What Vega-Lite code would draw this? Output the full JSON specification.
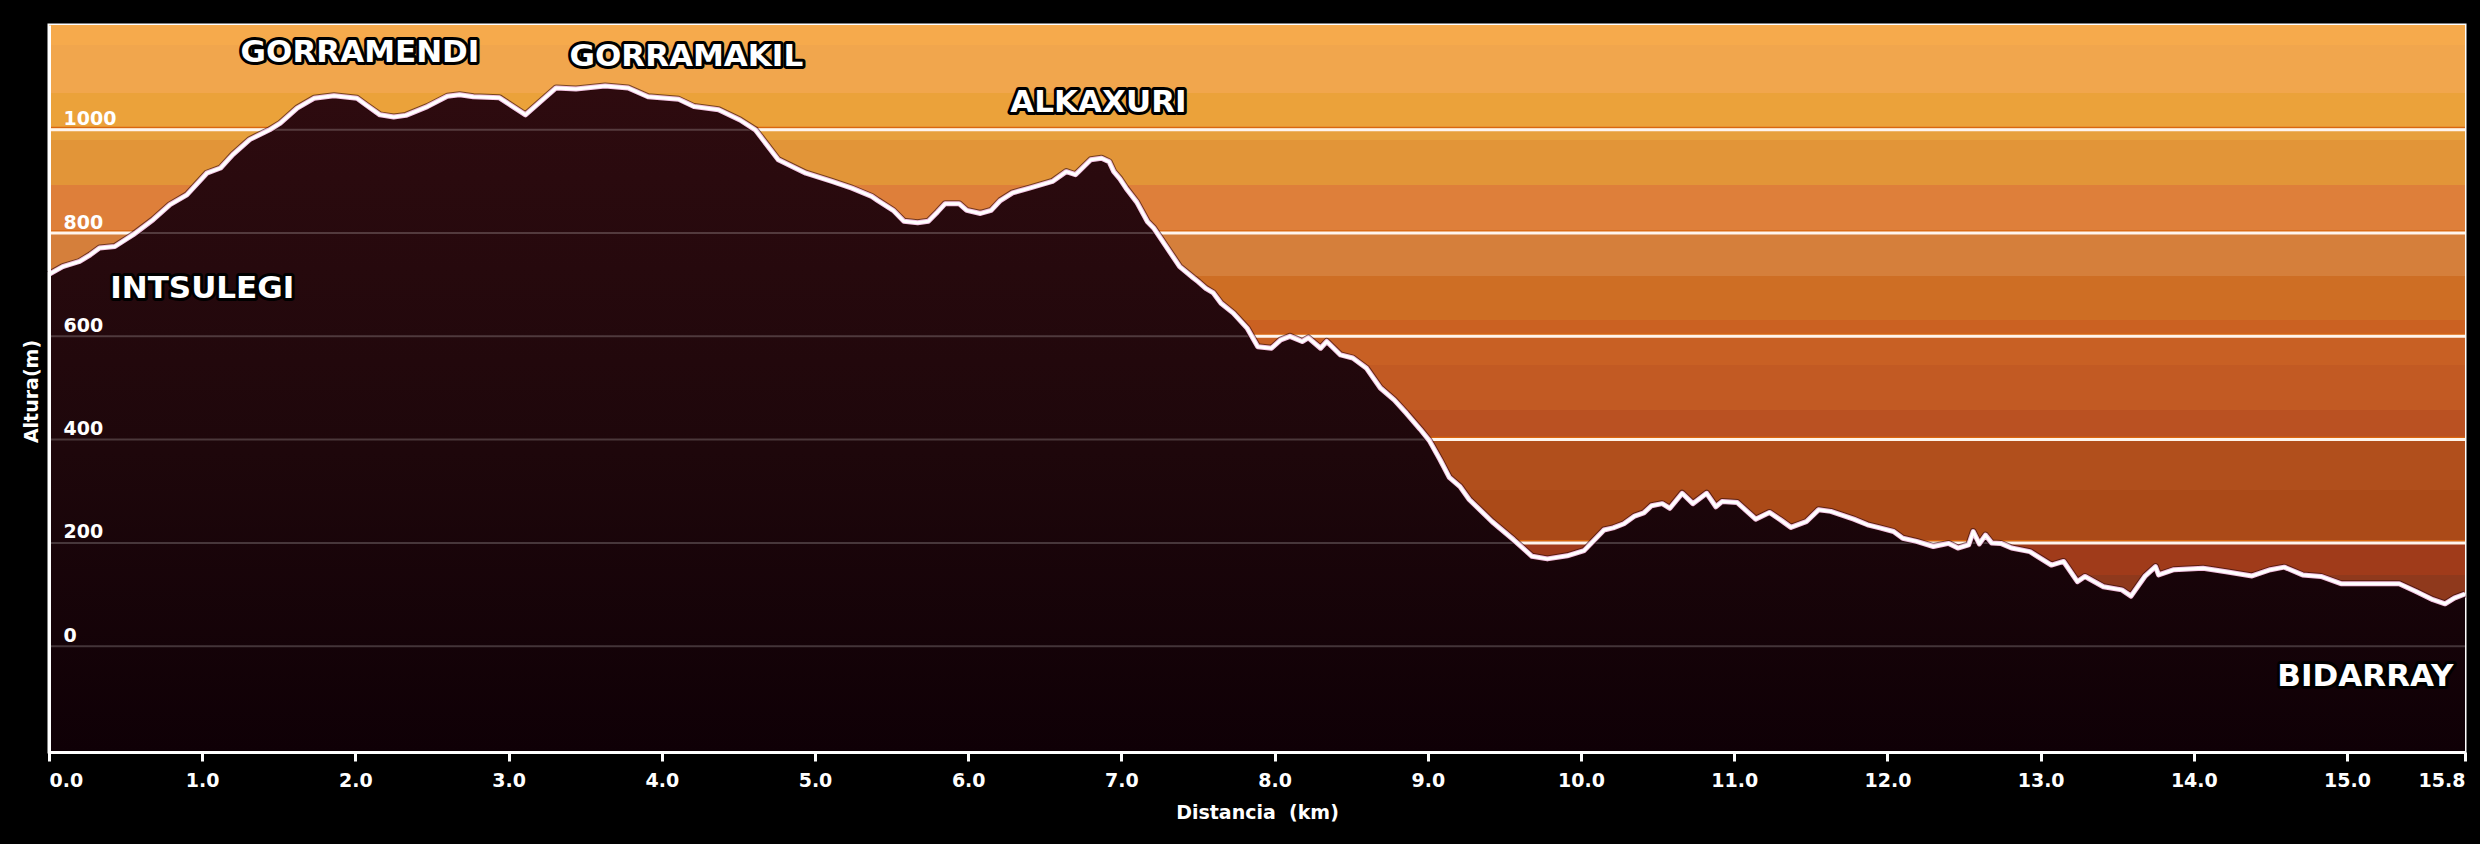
{
  "$schema": "https://vega.github.io/schema/vega-lite/v6.json",
  "width": 2416,
  "height": 727,
  "autosize": {"type": "none"},
  "padding": {"left": 49, "top": 25, "right": 15, "bottom": 92},
  "background": "#000000",
  "config": {
    "view": {"stroke": "#ffffff", "strokeWidth": 3},
    "font": "DejaVu Sans"
  },
  "datasets": {
    "profile": [
      {"km": 0.00, "alt": 720}, {"km": 0.09, "alt": 735}, {"km": 0.20, "alt": 745}, {"km": 0.27, "alt": 758},
      {"km": 0.33, "alt": 771}, {"km": 0.43, "alt": 774}, {"km": 0.55, "alt": 797}, {"km": 0.68, "alt": 826},
      {"km": 0.79, "alt": 855}, {"km": 0.90, "alt": 874}, {"km": 1.03, "alt": 916}, {"km": 1.12, "alt": 926},
      {"km": 1.20, "alt": 952}, {"km": 1.31, "alt": 981}, {"km": 1.44, "alt": 1000}, {"km": 1.51, "alt": 1013},
      {"km": 1.62, "alt": 1042}, {"km": 1.73, "alt": 1061}, {"km": 1.86, "alt": 1066}, {"km": 2.01, "alt": 1061},
      {"km": 2.07, "alt": 1048}, {"km": 2.16, "alt": 1029}, {"km": 2.25, "alt": 1025}, {"km": 2.33, "alt": 1028},
      {"km": 2.47, "alt": 1045}, {"km": 2.60, "alt": 1065}, {"km": 2.68, "alt": 1068}, {"km": 2.77, "alt": 1064},
      {"km": 2.94, "alt": 1062}, {"km": 3.11, "alt": 1029}, {"km": 3.31, "alt": 1081}, {"km": 3.44, "alt": 1079},
      {"km": 3.63, "alt": 1085}, {"km": 3.78, "alt": 1081}, {"km": 3.91, "alt": 1064}, {"km": 4.11, "alt": 1059},
      {"km": 4.21, "alt": 1045}, {"km": 4.37, "alt": 1039}, {"km": 4.51, "alt": 1019}, {"km": 4.61, "alt": 1000},
      {"km": 4.76, "alt": 942}, {"km": 4.94, "alt": 916}, {"km": 5.11, "alt": 900}, {"km": 5.24, "alt": 887},
      {"km": 5.37, "alt": 871}, {"km": 5.41, "alt": 863}, {"km": 5.51, "alt": 844}, {"km": 5.58, "alt": 823},
      {"km": 5.67, "alt": 820}, {"km": 5.74, "alt": 823}, {"km": 5.80, "alt": 841}, {"km": 5.85, "alt": 857},
      {"km": 5.94, "alt": 857}, {"km": 5.99, "alt": 844}, {"km": 6.08, "alt": 838}, {"km": 6.15, "alt": 844},
      {"km": 6.21, "alt": 863}, {"km": 6.29, "alt": 878}, {"km": 6.40, "alt": 887}, {"km": 6.55, "alt": 900},
      {"km": 6.64, "alt": 919}, {"km": 6.70, "alt": 913}, {"km": 6.80, "alt": 942}, {"km": 6.87, "alt": 945},
      {"km": 6.92, "alt": 938}, {"km": 6.95, "alt": 919}, {"km": 6.99, "alt": 905}, {"km": 7.03, "alt": 887},
      {"km": 7.10, "alt": 860}, {"km": 7.17, "alt": 822}, {"km": 7.21, "alt": 810}, {"km": 7.38, "alt": 735},
      {"km": 7.47, "alt": 713}, {"km": 7.50, "alt": 706}, {"km": 7.55, "alt": 693}, {"km": 7.60, "alt": 684},
      {"km": 7.65, "alt": 664}, {"km": 7.73, "alt": 645}, {"km": 7.82, "alt": 616}, {"km": 7.89, "alt": 580},
      {"km": 7.98, "alt": 577}, {"km": 8.04, "alt": 593}, {"km": 8.10, "alt": 600}, {"km": 8.18, "alt": 590},
      {"km": 8.22, "alt": 597}, {"km": 8.30, "alt": 577}, {"km": 8.34, "alt": 590}, {"km": 8.43, "alt": 564},
      {"km": 8.51, "alt": 558}, {"km": 8.60, "alt": 538}, {"km": 8.69, "alt": 500}, {"km": 8.78, "alt": 477},
      {"km": 8.86, "alt": 451}, {"km": 8.95, "alt": 420}, {"km": 9.01, "alt": 398}, {"km": 9.08, "alt": 361},
      {"km": 9.14, "alt": 327}, {"km": 9.21, "alt": 309}, {"km": 9.27, "alt": 284}, {"km": 9.42, "alt": 241},
      {"km": 9.56, "alt": 206}, {"km": 9.68, "alt": 174}, {"km": 9.78, "alt": 169}, {"km": 9.91, "alt": 175},
      {"km": 10.02, "alt": 185}, {"km": 10.15, "alt": 225}, {"km": 10.21, "alt": 229}, {"km": 10.28, "alt": 237},
      {"km": 10.35, "alt": 252}, {"km": 10.41, "alt": 258}, {"km": 10.46, "alt": 272}, {"km": 10.53, "alt": 276},
      {"km": 10.58, "alt": 267}, {"km": 10.66, "alt": 296}, {"km": 10.73, "alt": 276}, {"km": 10.82, "alt": 296},
      {"km": 10.88, "alt": 270}, {"km": 10.92, "alt": 280}, {"km": 11.02, "alt": 278}, {"km": 11.14, "alt": 246},
      {"km": 11.23, "alt": 259}, {"km": 11.30, "alt": 245}, {"km": 11.37, "alt": 230}, {"km": 11.47, "alt": 241},
      {"km": 11.55, "alt": 264}, {"km": 11.63, "alt": 261}, {"km": 11.78, "alt": 246}, {"km": 11.87, "alt": 235},
      {"km": 11.95, "alt": 229}, {"km": 12.04, "alt": 222}, {"km": 12.10, "alt": 209}, {"km": 12.19, "alt": 203},
      {"km": 12.30, "alt": 193}, {"km": 12.40, "alt": 199}, {"km": 12.46, "alt": 190}, {"km": 12.53, "alt": 196},
      {"km": 12.56, "alt": 222}, {"km": 12.60, "alt": 198}, {"km": 12.64, "alt": 215}, {"km": 12.68, "alt": 200},
      {"km": 12.74, "alt": 199}, {"km": 12.81, "alt": 190}, {"km": 12.93, "alt": 183}, {"km": 13.07, "alt": 157},
      {"km": 13.15, "alt": 164}, {"km": 13.24, "alt": 125}, {"km": 13.29, "alt": 135}, {"km": 13.41, "alt": 115},
      {"km": 13.53, "alt": 109}, {"km": 13.59, "alt": 97}, {"km": 13.68, "alt": 135}, {"km": 13.75, "alt": 154},
      {"km": 13.77, "alt": 138}, {"km": 13.87, "alt": 148}, {"km": 14.06, "alt": 151}, {"km": 14.21, "alt": 144},
      {"km": 14.38, "alt": 136}, {"km": 14.50, "alt": 148}, {"km": 14.59, "alt": 153}, {"km": 14.71, "alt": 138},
      {"km": 14.83, "alt": 135}, {"km": 14.96, "alt": 121}, {"km": 15.34, "alt": 121}, {"km": 15.45, "alt": 106},
      {"km": 15.56, "alt": 90}, {"km": 15.64, "alt": 82}, {"km": 15.70, "alt": 93}, {"km": 15.77, "alt": 101}
    ],
    "grid": [{"alt": 0}, {"alt": 200}, {"alt": 400}, {"alt": 600}, {"alt": 800}, {"alt": 1000}],
    "places": [
      {"km": 2.03, "alt": 1149, "name": "GORRAMENDI"},
      {"km": 4.16, "alt": 1141, "name": "GORRAMAKIL"},
      {"km": 6.85, "alt": 1052, "name": "ALKAXURI"},
      {"km": 1.00, "alt": 691, "name": "INTSULEGI"},
      {"km": 15.12, "alt": -60, "name": "BIDARRAY"}
    ]
  },
  "layer": [
    {
      "data": {"values": [{}]},
      "mark": {
        "type": "rect",
        "color": {
          "gradient": "linear", "x1": 0, "y1": 0, "x2": 0, "y2": 1,
          "stops": [
            {"offset": 0, "color": "#f6aa4c"}, {"offset": 0.0275, "color": "#f6aa4c"},
            {"offset": 0.0275, "color": "#f1a64d"}, {"offset": 0.0935, "color": "#f1a64d"},
            {"offset": 0.0935, "color": "#eba23a"}, {"offset": 0.1417, "color": "#eba23a"},
            {"offset": 0.1417, "color": "#e7a03c"}, {"offset": 0.158, "color": "#e7a03c"},
            {"offset": 0.158, "color": "#e29538"}, {"offset": 0.22, "color": "#e29538"},
            {"offset": 0.22, "color": "#de7f3a"}, {"offset": 0.2875, "color": "#de7f3a"},
            {"offset": 0.2875, "color": "#d57f3b"}, {"offset": 0.345, "color": "#d57f3b"},
            {"offset": 0.345, "color": "#ce6e24"}, {"offset": 0.406, "color": "#ce6e24"},
            {"offset": 0.406, "color": "#cb6122"}, {"offset": 0.429, "color": "#cb6122"},
            {"offset": 0.429, "color": "#c86024"}, {"offset": 0.468, "color": "#c86024"},
            {"offset": 0.468, "color": "#c25a23"}, {"offset": 0.53, "color": "#c25a23"},
            {"offset": 0.53, "color": "#ba5122"}, {"offset": 0.571, "color": "#ba5122"},
            {"offset": 0.571, "color": "#b14f1c"}, {"offset": 0.64, "color": "#b14f1c"},
            {"offset": 0.64, "color": "#ab4a18"}, {"offset": 0.7125, "color": "#ab4a18"},
            {"offset": 0.7125, "color": "#a03b1a"}, {"offset": 0.7565, "color": "#a03b1a"},
            {"offset": 0.7565, "color": "#8f391c"}, {"offset": 0.791, "color": "#8f391c"},
            {"offset": 0.791, "color": "#7e381e"}, {"offset": 1, "color": "#7e381e"}
          ]
        }
      },
      "encoding": {}
    },
    {
      "data": {"name": "grid"},
      "mark": {"type": "rule", "color": "#d9660f", "strokeWidth": 1.5, "yOffset": -2.2},
      "encoding": {
        "y": {"field": "alt", "type": "quantitative", "scale": {"domain": [-205, 1203], "nice": false, "zero": false}}
      }
    },
    {
      "data": {"name": "grid"},
      "mark": {"type": "rule", "color": "#fff3e8", "strokeWidth": 3},
      "encoding": {
        "y": {"field": "alt", "type": "quantitative", "scale": {"domain": [-205, 1203], "nice": false, "zero": false}}
      }
    },
    {
      "data": {"name": "profile"},
      "mark": {
        "type": "area",
        "color": {
          "gradient": "linear", "x1": 0, "y1": 0, "x2": 0, "y2": 1,
          "stops": [
            {"offset": 0, "color": "#2e0b0f"},
            {"offset": 0.55, "color": "#1e070b"},
            {"offset": 1, "color": "#0f0006"}
          ]
        }
      },
      "encoding": {
        "x": {
          "field": "km", "type": "quantitative",
          "scale": {"domain": [0, 15.77], "nice": false, "zero": false},
          "axis": {
            "title": "Distancia\u00a0\u00a0(km)",
            "values": [0, 1, 2, 3, 4, 5, 6, 7, 8, 9, 10, 11, 12, 13, 14, 15, 15.77],
            "labelExpr": "format(datum.value, '.1f')",
            "labelFlush": true,
            "grid": false,
            "ticks": true, "tickColor": "#ffffff", "tickWidth": 3, "tickSize": 9,
            "domain": true, "domainColor": "#ffffff", "domainWidth": 3,
            "labelColor": "#ffffff", "labelFont": "DejaVu Sans", "labelFontSize": 19, "labelFontWeight": "bold", "labelPadding": 10,
            "titleColor": "#ffffff", "titleFont": "DejaVu Sans", "titleFontSize": 19, "titleFontWeight": "bold", "titlePadding": 13,
            "zindex": 1
          }
        },
        "y": {
          "field": "alt", "type": "quantitative",
          "scale": {"domain": [-205, 1203], "nice": false, "zero": false},
          "axis": {
            "title": "Altura(m)",
            "values": [0, 200, 400, 600, 800, 1000],
            "format": "d",
            "grid": false, "ticks": false,
            "domain": true, "domainColor": "#ffffff", "domainWidth": 3,
            "labelAlign": "left", "labelBaseline": "alphabetic", "labelPadding": -14, "labelOffset": -5,
            "labelColor": "#ffffff", "labelFont": "DejaVu Sans", "labelFontSize": 19, "labelFontWeight": "bold",
            "titleColor": "#ffffff", "titleFont": "DejaVu Sans", "titleFontSize": 19, "titleFontWeight": "bold",
            "titleAngle": -90, "titleAlign": "center", "titleBaseline": "middle", "titleX": -18, "titleY": 366,
            "zindex": 1
          }
        },
        "y2": {"datum": -205}
      }
    },
    {
      "data": {"name": "grid"},
      "mark": {"type": "rule", "color": "#ffffff", "opacity": 0.2, "strokeWidth": 2},
      "encoding": {
        "y": {"field": "alt", "type": "quantitative", "scale": {"domain": [-205, 1203], "nice": false, "zero": false}}
      }
    },
    {
      "data": {"name": "profile"},
      "mark": {"type": "line", "color": "#2a0808", "opacity": 0.6, "strokeWidth": 7, "strokeJoin": "round"},
      "encoding": {
        "x": {"field": "km", "type": "quantitative", "scale": {"domain": [0, 15.77], "nice": false, "zero": false}},
        "y": {"field": "alt", "type": "quantitative", "scale": {"domain": [-205, 1203], "nice": false, "zero": false}}
      }
    },
    {
      "data": {"name": "profile"},
      "mark": {"type": "line", "color": "#f3c4e4", "strokeWidth": 5, "strokeJoin": "round"},
      "encoding": {
        "x": {"field": "km", "type": "quantitative", "scale": {"domain": [0, 15.77], "nice": false, "zero": false}},
        "y": {"field": "alt", "type": "quantitative", "scale": {"domain": [-205, 1203], "nice": false, "zero": false}}
      }
    },
    {
      "data": {"name": "profile"},
      "mark": {"type": "line", "color": "#ffffff", "strokeWidth": 3, "strokeJoin": "round"},
      "encoding": {
        "x": {"field": "km", "type": "quantitative", "scale": {"domain": [0, 15.77], "nice": false, "zero": false}},
        "y": {"field": "alt", "type": "quantitative", "scale": {"domain": [-205, 1203], "nice": false, "zero": false}}
      }
    },
    {
      "data": {"name": "places"},
      "mark": {"type": "text", "font": "DejaVu Sans", "fontSize": 31, "fontWeight": "bold", "align": "center", "baseline": "middle", "fill": "#000000", "stroke": "#000000", "strokeWidth": 6, "strokeJoin": "round"},
      "encoding": {
        "x": {"field": "km", "type": "quantitative", "scale": {"domain": [0, 15.77], "nice": false, "zero": false}},
        "y": {"field": "alt", "type": "quantitative", "scale": {"domain": [-205, 1203], "nice": false, "zero": false}},
        "text": {"field": "name"}
      }
    },
    {
      "data": {"name": "places"},
      "mark": {"type": "text", "font": "DejaVu Sans", "fontSize": 31, "fontWeight": "bold", "align": "center", "baseline": "middle", "fill": "#ffffff"},
      "encoding": {
        "x": {"field": "km", "type": "quantitative", "scale": {"domain": [0, 15.77], "nice": false, "zero": false}},
        "y": {"field": "alt", "type": "quantitative", "scale": {"domain": [-205, 1203], "nice": false, "zero": false}},
        "text": {"field": "name"}
      }
    }
  ]
}
